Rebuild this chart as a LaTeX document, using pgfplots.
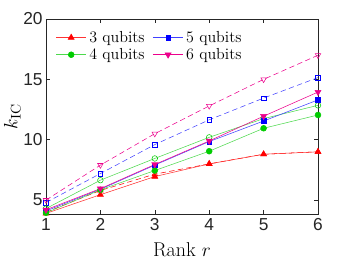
\documentclass[border=0pt]{standalone}
\usepackage{fontspec}
\setsansfont{Liberation Sans}
\usepackage{pgfplots}
\pgfplotsset{compat=1.18}
\definecolor{mgreen}{rgb}{0,0.8,0}
\definecolor{lgreen}{rgb}{0.3,0.85,0.3}
\definecolor{axgray}{rgb}{0.15,0.15,0.15}
\begin{document}
\begin{tikzpicture}[x=1pt,y=1pt]
\useasboundingbox (-34.5,-35.25) rectangle (230.25,160.5);
\begin{axis}[
  at={(0,0)}, anchor=south west,
  scale only axis, width=204pt, height=146.25pt,
  xmin=1, xmax=6, ymin=3.85, ymax=20,
  xtick={1,2,3,4,5,6}, ytick={5,10,15,20},
  tick align=inside, major tick length=3pt,
  axis line style={axgray, line width=0.4pt},
  tick style={axgray, line width=0.4pt},
  ticklabel style={font=\sffamily\fontsize{13}{15}\selectfont, text=axgray},
  yticklabel style={xshift=1pt},
  /pgf/number format/assume math mode=true,
  xlabel={Rank $r$}, ylabel={$k_{\mathrm{IC}}$},
  label style={font=\fontsize{15}{17}\selectfont},
  xlabel style={yshift=-1.5pt},
  ylabel style={yshift=-5pt},
  legend columns=2,
  legend style={at={(0.03,0.96)}, anchor=north west, draw=none, fill=none,
    font=\fontsize{12}{14}\selectfont, row sep=-1pt,
    /tikz/every even column/.append style={column sep=4pt},
    inner sep=1pt},
  legend image code/.code={
    \draw[mark repeat=2,mark phase=2] plot coordinates {(0cm,0cm) (0.4cm,0cm) (0.8cm,0cm)};},
]
% dashed upper series (open markers)
\addplot[forget plot, red, line width=0.4pt, dash pattern=on 4pt off 2.5pt, mark=triangle, mark size=2.4pt, mark options={solid}]
 coordinates {(1,4.0) (2,5.8) (3,7.15) (4,8.0) (5,8.8) (6,9.0)};
\addplot[forget plot, blue!75, line width=0.4pt, dash pattern=on 4pt off 2.5pt, mark=square, mark size=1.7pt, mark options={solid,blue}]
 coordinates {(1,4.8) (2,7.2) (3,9.6) (4,11.65) (5,13.45) (6,15.15)};
\addplot[forget plot, magenta, line width=0.4pt, dash pattern=on 4pt off 2.5pt, mark=triangle, mark size=2.4pt, mark options={solid,rotate=180}]
 coordinates {(1,5.0) (2,7.9) (3,10.5) (4,12.8) (5,15.0) (6,17.0)};
\addplot[forget plot, lgreen, line width=0.4pt, mark=o, mark size=2.1pt, mark options={mgreen}]
 coordinates {(1,4.3) (2,6.65) (3,8.45) (4,10.2) (5,11.75) (6,12.85)};
% solid lower series (filled markers)
\addplot[red!80, line width=0.4pt, mark=triangle*, mark size=2.6pt, mark options={red}]
 coordinates {(1,3.9) (2,5.45) (3,6.95) (4,8.0) (5,8.8) (6,9.0)};
\addlegendentry{3 qubits}
\addplot[blue!75, line width=0.4pt, mark=square*, mark size=1.7pt, mark options={blue}]
 coordinates {(1,4.1) (2,5.9) (3,7.9) (4,9.85) (5,11.55) (6,13.3)};
\addlegendentry{5 qubits}
\addplot[lgreen, line width=0.4pt, mark=*, mark size=2.2pt, mark options={mgreen}]
 coordinates {(1,3.95) (2,5.85) (3,7.45) (4,9.05) (5,10.95) (6,12.05)};
\addlegendentry{4 qubits}
\addplot[magenta, line width=0.4pt, mark=triangle*, mark size=2.6pt, mark options={rotate=180}]
 coordinates {(1,4.2) (2,5.95) (3,7.95) (4,9.9) (5,11.95) (6,13.95)};
\addlegendentry{6 qubits}
\end{axis}
\end{tikzpicture}
\end{document}
